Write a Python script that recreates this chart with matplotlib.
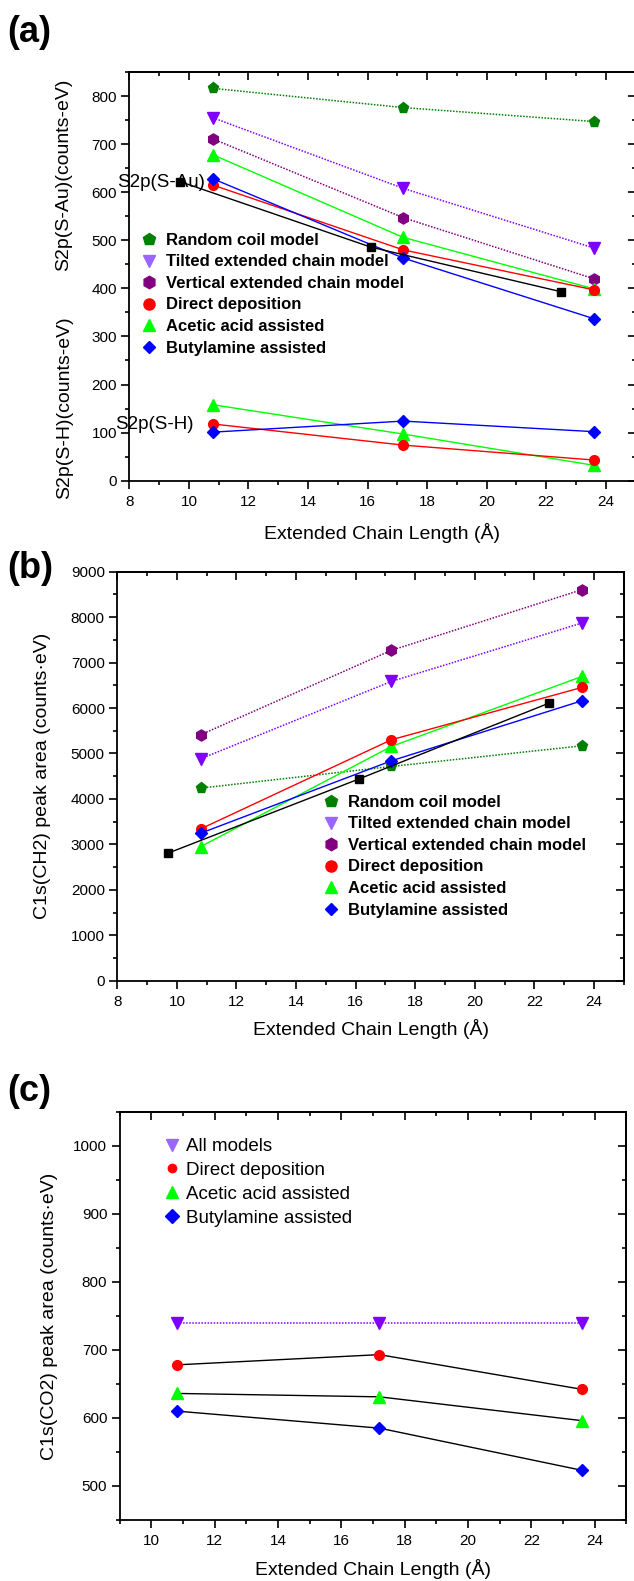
import matplotlib
matplotlib.use('Agg')
import matplotlib.pyplot as plt
from matplotlib.lines import Line2D
from matplotlib.ticker import MultipleLocator, NullFormatter

plt.rcParams['font.family'] = ['Liberation Sans', 'DejaVu Sans']

W, H = 634, 1581
fig = plt.figure(figsize=(W / 100, H / 100), dpi=100)


def fx(px):
    return px / W


def fy(py):
    return 1 - py / H


# ---------------- data ----------------
chain_len = [10.8, 17.2, 23.6]
ref_len = [9.7, 16.1, 22.5]

a_random = [816, 776, 747]
a_tilted = [755, 608, 484]
a_vertical = [711, 547, 420]
a_direct = [615, 480, 397]
a_acetic = [678, 506, 399]
a_butyl = [628, 463, 337]
a_ref = [622, 486, 393]
a_sh_direct = [118, 74, 43]
a_sh_acetic = [158, 97, 32]
a_sh_butyl = [101, 124, 102]

b_random = [4238, 4714, 5170]
b_tilted = [4883, 6586, 7872]
b_vertical = [5412, 7270, 8605]
b_direct = [3341, 5302, 6454]
b_acetic = [2951, 5154, 6696]
b_butyl = [3246, 4839, 6161]
b_ref = [2806, 4436, 6110]

c_all = [740, 740, 740]
c_direct = [678, 693, 642]
c_acetic = [636, 631, 596]
c_butyl = [610, 585, 523]

labels_ab = ['Random coil model', 'Tilted extended chain model',
             'Vertical extended chain model', 'Direct deposition',
             'Acetic acid assisted', 'Butylamine assisted']
labels_c = ['All models', 'Direct deposition', 'Acetic acid assisted',
            'Butylamine assisted']
xlabel = 'Extended Chain Length (\u00c5)'

GREEN = '#008000'
VIOLET = '#8000FF'
VIOLET_L = '#9966FF'
PURPLE = '#800080'
RED = '#FF0000'
LIME = '#00FF00'
BLUE = '#0000FF'
DOT = (0, (1, 1))

TICK_FS = 11
LABEL_FS = 14


def make_axes(left, top, right, bottom, xlim, ylim, ymaj, ymin):
    ax = fig.add_axes([fx(left), fy(bottom), (right - left) / W, (bottom - top) / H])
    ax.set_xlim(*xlim)
    ax.set_ylim(*ylim)
    ax.xaxis.set_major_locator(MultipleLocator(2))
    ax.xaxis.set_minor_locator(MultipleLocator(1))
    ax.yaxis.set_major_locator(MultipleLocator(ymaj))
    ax.yaxis.set_minor_locator(MultipleLocator(ymin))
    ax.tick_params(which='both', direction='out', width=1.2, labelsize=TICK_FS)
    ax.tick_params(axis='x', which='major', length=5.5, pad=4.5)
    ax.tick_params(axis='y', which='major', length=5.5, pad=3.5)
    ax.tick_params(which='minor', length=3)
    for s in ax.spines.values():
        s.set_linewidth(1.3)
    sx = ax.secondary_xaxis('top')
    sx.xaxis.set_major_locator(MultipleLocator(2))
    sx.xaxis.set_minor_locator(MultipleLocator(1))
    sx.xaxis.set_major_formatter(NullFormatter())
    sx.tick_params(which='both', direction='in', width=1.2)
    sx.tick_params(which='major', length=5.5)
    sx.tick_params(which='minor', length=3)
    sy = ax.secondary_yaxis('right')
    sy.yaxis.set_major_locator(MultipleLocator(ymaj))
    sy.yaxis.set_minor_locator(MultipleLocator(ymin))
    sy.yaxis.set_major_formatter(NullFormatter())
    sy.tick_params(which='both', direction='in', width=1.2)
    sy.tick_params(which='major', length=5.5)
    sy.tick_params(which='minor', length=3)
    for s in list(sx.spines.values()) + list(sy.spines.values()):
        s.set_linewidth(1.3)
    return ax


def mk(marker, color, ms):
    return Line2D([], [], ls='none', marker=marker, color=color, mec=color, ms=ms)


legend_handles_ab = [mk('p', GREEN, 9), mk('v', VIOLET_L, 8.5), mk('h', PURPLE, 9),
                     mk('o', RED, 8), mk('^', LIME, 9), mk('D', BLUE, 6.5)]

# ---------------- panel (a) ----------------
axa = make_axes(129.4, 72, 635.5, 480.7, (8, 25), (0, 850), 100, 50)
axa.plot(chain_len, a_random, ls=DOT, lw=1.1, color=GREEN, marker='p', ms=8)
axa.plot(chain_len, a_tilted, ls=DOT, lw=1.1, color=VIOLET, marker='v', ms=8)
axa.plot(chain_len, a_vertical, ls=DOT, lw=1.1, color=PURPLE, marker='h', ms=8)
axa.plot(chain_len, a_acetic, ls='-', lw=1.0, color=LIME, marker='^', ms=8)
axa.plot(chain_len, a_direct, ls='-', lw=1.0, color=RED, marker='o', ms=7)
axa.plot(chain_len, a_butyl, ls='-', lw=1.0, color=BLUE, marker='D', ms=6)
axa.plot(ref_len, a_ref, ls='-', lw=1.0, color='black', marker='s', ms=5.5)
axa.plot(chain_len, a_sh_acetic, ls='-', lw=1.0, color=LIME, marker='^', ms=8)
axa.plot(chain_len, a_sh_direct, ls='-', lw=1.0, color=RED, marker='o', ms=7)
axa.plot(chain_len, a_sh_butyl, ls='-', lw=1.0, color=BLUE, marker='D', ms=6)
axa.text(7.6, 621, 'S2p(S-Au)', fontsize=13.5, ha='left', va='center', clip_on=False, zorder=10)
axa.text(7.52, 116, 'S2p(S-H)', fontsize=13.5, ha='left', va='center', clip_on=False, zorder=10)
axa.legend(legend_handles_ab, labels_ab, loc='upper left',
           bbox_to_anchor=(fx(140.7), fy(233)), bbox_transform=fig.transFigure,
           frameon=False, borderpad=0, borderaxespad=0, handlelength=1.0,
           handletextpad=0.5, labelspacing=0.39, prop={'size': 12, 'weight': 'bold'})
fig.text(fx(64), fy(175), 'S2p(S-Au)(counts-eV)', rotation=90, ha='center', va='center', fontsize=LABEL_FS)
fig.text(fx(65), fy(408), 'S2p(S-H)(counts-eV)', rotation=90, ha='center', va='center', fontsize=LABEL_FS)
fig.text(fx((129.4 + 635.5) / 2), fy(539), xlabel, ha='center', va='baseline', fontsize=LABEL_FS)
fig.text(fx(7), fy(42), '(a)', fontsize=26, fontweight='bold', ha='left', va='baseline')

# ---------------- panel (b) ----------------
axb = make_axes(117.3, 571.7, 623.8, 980.7, (8, 25), (0, 9000), 1000, 500)
axb.plot(chain_len, b_vertical, ls=DOT, lw=1.1, color=PURPLE, marker='h', ms=8)
axb.plot(chain_len, b_tilted, ls=DOT, lw=1.1, color=VIOLET, marker='v', ms=8)
axb.plot(chain_len, b_random, ls=DOT, lw=1.1, color=GREEN, marker='p', ms=8)
axb.plot(chain_len, b_acetic, ls='-', lw=1.0, color=LIME, marker='^', ms=8)
axb.plot(chain_len, b_direct, ls='-', lw=1.0, color=RED, marker='o', ms=7)
axb.plot(chain_len, b_butyl, ls='-', lw=1.0, color=BLUE, marker='D', ms=6)
axb.plot(ref_len, b_ref, ls='-', lw=1.0, color='black', marker='s', ms=5.5)
axb.legend(legend_handles_ab, labels_ab, loc='upper left',
           bbox_to_anchor=(fx(322.7), fy(795)), bbox_transform=fig.transFigure,
           frameon=False, borderpad=0, borderaxespad=0, handlelength=1.0,
           handletextpad=0.5, labelspacing=0.39, prop={'size': 12, 'weight': 'bold'})
fig.text(fx(43), fy(776), 'C1s(CH2) peak area (counts\u00b7eV)', rotation=90, ha='center', va='center', fontsize=LABEL_FS)
fig.text(fx((117.3 + 623.8) / 2), fy(1035), xlabel, ha='center', va='baseline', fontsize=LABEL_FS)
fig.text(fx(7), fy(578), '(b)', fontsize=26, fontweight='bold', ha='left', va='baseline')

# ---------------- panel (c) ----------------
axc = make_axes(119.8, 1111.7, 626.3, 1520, (9, 25), (450, 1050), 100, 50)
axc.plot(chain_len, c_all, ls=DOT, lw=1.1, color=VIOLET, marker='v', ms=8)
axc.plot(chain_len, c_direct, ls='-', lw=1.0, color='black', marker='o', ms=7, mfc=RED, mec=RED)
axc.plot(chain_len, c_acetic, ls='-', lw=1.0, color='black', marker='^', ms=8, mfc=LIME, mec=LIME)
axc.plot(chain_len, c_butyl, ls='-', lw=1.0, color='black', marker='D', ms=6, mfc=BLUE, mec=BLUE)
legend_handles_c = [mk('v', VIOLET_L, 9), mk('o', RED, 6), mk('^', LIME, 9), mk('D', BLUE, 7)]
axc.legend(legend_handles_c, labels_c, loc='upper left',
           bbox_to_anchor=(fx(163.7), fy(1138)), bbox_transform=fig.transFigure,
           frameon=False, borderpad=0, borderaxespad=0, handlelength=0.9,
           handletextpad=0.3, labelspacing=0.36, prop={'size': 13.5})
fig.text(fx(50), fy(1316), 'C1s(CO2) peak area (counts\u00b7eV)', rotation=90, ha='center', va='center', fontsize=LABEL_FS)
fig.text(fx((119.8 + 626.3) / 2), fy(1575), xlabel, ha='center', va='baseline', fontsize=LABEL_FS)
fig.text(fx(7), fy(1101), '(c)', fontsize=26, fontweight='bold', ha='left', va='baseline')

fig.savefig('out.png', dpi=100)
